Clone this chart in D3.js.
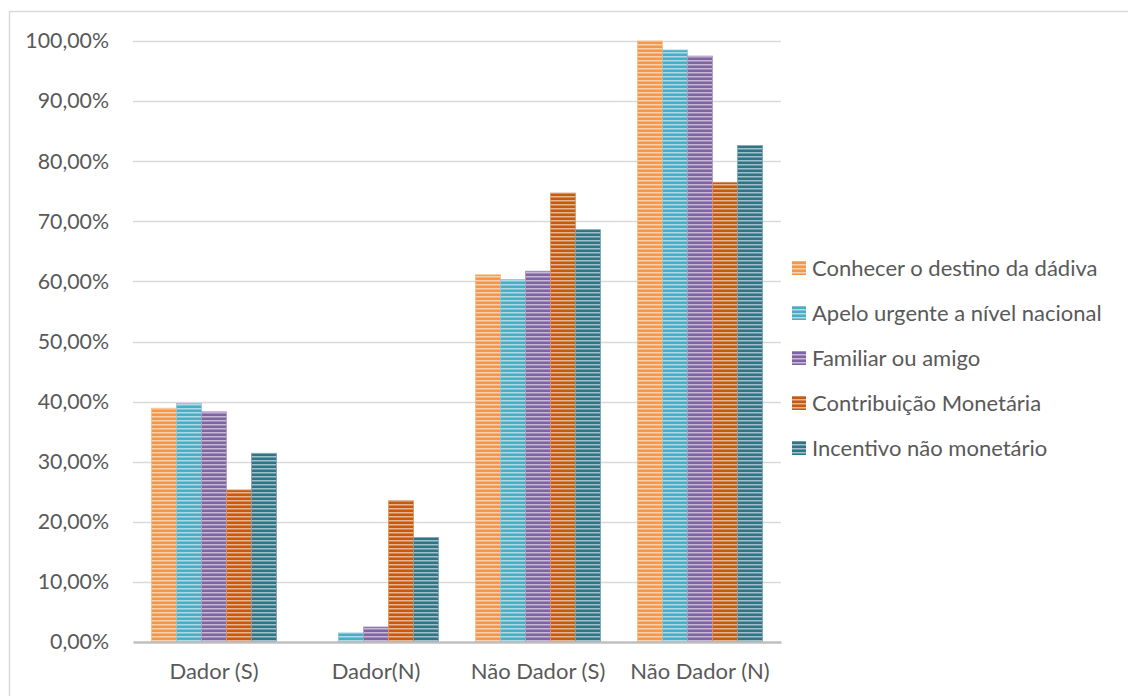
<!DOCTYPE html>
<html>
<head>
<meta charset="utf-8">
<script src="https://cdn.jsdelivr.net/npm/d3@7"></script>
<style>
  html, body { margin: 0; padding: 0; background: #ffffff; }
  svg { display: block; }
  text { font-family: Lato, "Open Sans", sans-serif; fill: #595959; }
</style>
</head>
<body>
<svg id="chart" width="1128" height="696"></svg>
<script>
// Respondent groups along the x axis
const categories = ["Dador (S)", "Dador(N)", "Não Dador (S)", "Não Dador (N)"];

// Motivation series (legend order)
const seriesNames = [
  "Conhecer o destino da dádiva",
  "Apelo urgente a nível nacional",
  "Familiar ou amigo",
  "Contribuição Monetária",
  "Incentivo não monetário"
];

// Share per series, one value per category (fractions)
const conhecerDestino   = [0.389, 0.000, 0.611, 1.000];
const apeloUrgente      = [0.397, 0.015, 0.603, 0.985];
const familiarAmigo     = [0.383, 0.025, 0.617, 0.975];
const contribMonetaria  = [0.253, 0.235, 0.747, 0.765];
const incentivoNaoMonet = [0.314, 0.174, 0.686, 0.826];

const seriesValues = [conhecerDestino, apeloUrgente, familiarAmigo, contribMonetaria, incentivoNaoMonet];

// Y axis tick values
const yTicks = [0, 0.1, 0.2, 0.3, 0.4, 0.5, 0.6, 0.7, 0.8, 0.9, 1.0];

const colors = ["#F79646", "#4BACC6", "#8064A2", "#C65A11", "#2F7487"];

const svg = d3.select("#chart");

// Outer chart frame
svg.append("rect")
  .attr("x", 9.5).attr("y", 11.5)
  .attr("width", 1130).attr("height", 700)
  .attr("fill", "none").attr("stroke", "#d9d9d9").attr("stroke-width", 1.5);

// Striped fills (narrow horizontal pattern)
const defs = svg.append("defs");
colors.forEach((c, i) => {
  const light = d3.interpolateRgb(c, "#ffffff")(0.55);
  const p = defs.append("pattern")
    .attr("id", "stripe" + i)
    .attr("patternUnits", "userSpaceOnUse")
    .attr("width", 8).attr("height", 4);
  p.append("rect").attr("width", 8).attr("height", 4).attr("fill", c);
  p.append("rect").attr("y", 0).attr("width", 8).attr("height", 1.5).attr("fill", light);
});

const plot = { left: 133, right: 781, top: 41, bottom: 642 };

const x0 = d3.scaleBand()
  .domain(categories)
  .range([plot.left, plot.right])
  .paddingInner(0.228)
  .paddingOuter(0.114);

const x1 = d3.scaleBand()
  .domain(seriesNames)
  .range([0, x0.bandwidth()]);

const y = d3.scaleLinear().domain([0, 1]).range([plot.bottom, plot.top]);

const ptLocale = d3.formatLocale({ decimal: ",", thousands: ".", grouping: [3], currency: ["", " €"] });
const pct = ptLocale.format(".2%");

// Horizontal gridlines
svg.append("g")
  .selectAll("line")
  .data(yTicks.filter(t => t > 0))
  .join("line")
  .attr("x1", plot.left).attr("x2", plot.right)
  .attr("y1", d => Math.round(y(d)) + 0.5).attr("y2", d => Math.round(y(d)) + 0.5)
  .attr("stroke", "#d9d9d9").attr("stroke-width", 1.5);

// Y axis labels
const yAxis = d3.axisLeft(y).tickValues(yTicks).tickFormat(pct).tickSize(0).tickPadding(0);
const yG = svg.append("g").attr("transform", "translate(109,0)").call(yAxis);
yG.select(".domain").remove();
yG.selectAll("text")
  .attr("font-size", 21.3)
  .attr("fill", "#595959")
  .style("font-family", "Lato, 'Open Sans', sans-serif");

// Bars
const groups = svg.append("g")
  .selectAll("g")
  .data(seriesNames)
  .join("g")
  .attr("fill", (d, i) => "url(#stripe" + i + ")")
  .attr("stroke", (d, i) => d3.interpolateRgb(colors[i], "#ffffff")(0.35))
  .attr("stroke-width", 0.8);

groups.selectAll("rect")
  .data((s, i) => categories.map((c, j) => ({ cat: c, series: s, value: seriesValues[i][j] })))
  .join("rect")
  .attr("x", d => x0(d.cat) + x1(d.series))
  .attr("width", x1.bandwidth())
  .attr("y", d => y(d.value))
  .attr("height", d => y(0) - y(d.value));

// X axis baseline and category labels
const xAxis = d3.axisBottom(x0).tickSize(0).tickPadding(0);
const xG = svg.append("g").attr("transform", "translate(0," + plot.bottom + ")").call(xAxis);
xG.select(".domain")
  .attr("stroke", "#bfbfbf").attr("stroke-width", 2.5);
xG.selectAll("text")
  .attr("dy", 0)
  .attr("y", 37)
  .attr("font-size", 22)
  .attr("fill", "#595959")
  .style("font-family", "Lato, 'Open Sans', sans-serif");

// Legend
const legend = svg.append("g").attr("transform", "translate(792,0)");
const legRow = legend.selectAll("g")
  .data(seriesNames)
  .join("g")
  .attr("transform", (d, i) => "translate(0," + (268 + i * 45) + ")");
legRow.append("rect")
  .attr("x", 0).attr("y", -7)
  .attr("width", 14).attr("height", 14)
  .attr("fill", (d, i) => "url(#stripe" + i + ")");
legRow.append("text")
  .attr("x", 20).attr("y", 0)
  .attr("dy", "0.36em")
  .attr("font-size", 22)
  .text(d => d);
</script>
</body>
</html>
